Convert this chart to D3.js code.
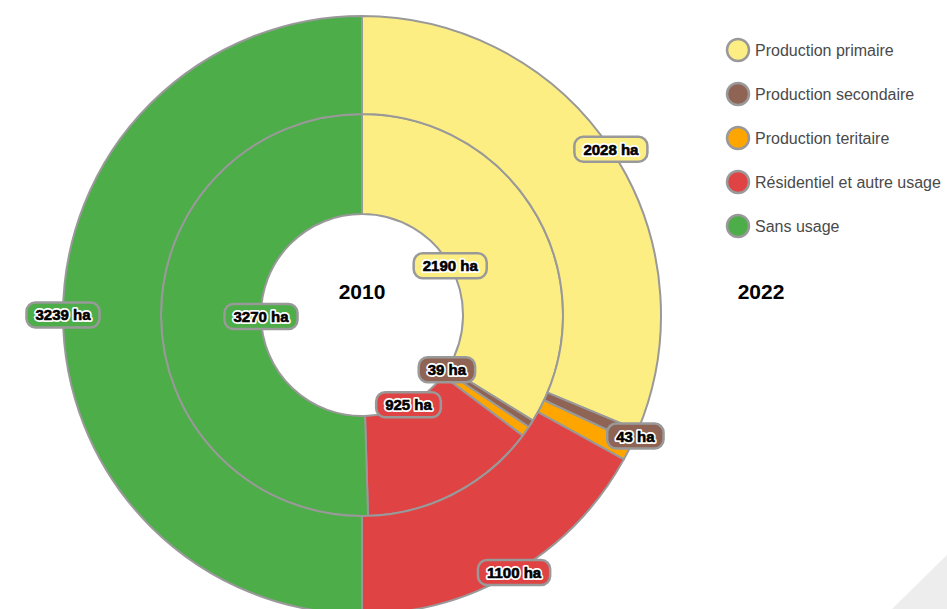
<!DOCTYPE html>
<html>
<head>
<meta charset="utf-8">
<script src="https://cdn.jsdelivr.net/npm/d3@7"></script>
<style>
  html, body { margin: 0; padding: 0; background: #fff; }
  svg { display: block; font-family: "Liberation Sans", Arial, Helvetica, sans-serif; }
</style>
</head>
<body>
<svg id="chart" width="947" height="609"></svg>
<script>
const categories = ["Production primaire", "Production secondaire", "Production teritaire", "Résidentiel et autre usage", "Sans usage"];
const colors = ["#fdee84", "#8f6454", "#ffa500", "#e04343", "#4cad49"];
const values2010 = [2190, 39, 54, 925, 3270];
const values2022 = [2028, 43, 68, 1100, 3239];
const showLabel = [true, true, false, true, true];
const yearLabels = ["2010", "2022"];

const svg = d3.select("#chart");
const cx = 362, cy = 315;
const r0 = 101, r1 = 201, r2 = 299;

// decorative page corner
svg.append("path").attr("d", "M892,609 L947,555 L947,609 Z").attr("fill", "#ededed");

const color = d3.scaleOrdinal().domain(categories).range(colors);
const pie = d3.pie().sort(null).value(d => d.v);

const g = svg.append("g").attr("transform", `translate(${cx},${cy})`);

const rings = [
  { values: values2010, inner: r0, outer: r1, labelR: r0 },
  { values: values2022, inner: r1, outer: r2, labelR: r2 }
];

const labels = [];
rings.forEach(ring => {
  const data = pie(categories.map((c, i) => ({ c, v: ring.values[i], i })));
  const arc = d3.arc().innerRadius(ring.inner).outerRadius(ring.outer);
  g.append("g").selectAll("path").data(data).join("path")
    .attr("d", arc)
    .attr("fill", d => color(d.data.c))
    .attr("stroke", "#999")
    .attr("stroke-width", 2)
    .attr("stroke-linejoin", "round");
  const la = d3.arc().innerRadius(ring.labelR).outerRadius(ring.labelR);
  data.forEach(d => { if (showLabel[d.data.i]) labels.push({ d, pos: la.centroid(d) }); });
});

const lg = g.append("g");
labels.forEach(l => {
  const grp = lg.append("g").attr("transform", `translate(${l.pos[0]},${l.pos[1]})`);
  const rect = grp.append("rect");
  const txt = `${l.d.data.v} ha`;
  const halo = grp.append("text")
    .attr("text-anchor", "middle").attr("dy", "0.36em")
    .attr("font-size", 15).attr("font-weight", "bold")
    .attr("fill", "#fff").attr("stroke", "#fff").attr("stroke-width", 4)
    .attr("stroke-linejoin", "round").text(txt);
  grp.append("text")
    .attr("text-anchor", "middle").attr("dy", "0.36em")
    .attr("font-size", 15).attr("font-weight", "bold")
    .attr("fill", "#000").attr("stroke", "#000").attr("stroke-width", 0.6)
    .text(txt);
  const w = halo.node().getComputedTextLength() + 18;
  const h = 25;
  rect.attr("x", -w / 2).attr("y", -h / 2).attr("width", w).attr("height", h)
    .attr("rx", 9).attr("ry", 9)
    .attr("fill", color(l.d.data.c))
    .attr("stroke", "#999").attr("stroke-width", 2.5);
});

// year labels
svg.append("text").attr("x", cx).attr("y", 299).attr("text-anchor", "middle")
  .attr("font-size", 21).attr("font-weight", "bold").attr("fill", "#000").text(yearLabels[0]);
svg.append("text").attr("x", 761).attr("y", 299).attr("text-anchor", "middle")
  .attr("font-size", 21).attr("font-weight", "bold").attr("fill", "#000").text(yearLabels[1]);

// legend
const legendY = d3.scalePoint().domain(categories).range([50, 226]);
const leg = svg.append("g").selectAll("g").data(categories).join("g")
  .attr("transform", d => `translate(738,${legendY(d)})`);
leg.append("circle").attr("r", 11).attr("fill", d => color(d)).attr("stroke", "#999").attr("stroke-width", 2.5);
leg.append("text").attr("x", 17).attr("dy", "0.35em").attr("font-size", 16).attr("fill", "#4a4a4a").text(d => d);
</script>
</body>
</html>
